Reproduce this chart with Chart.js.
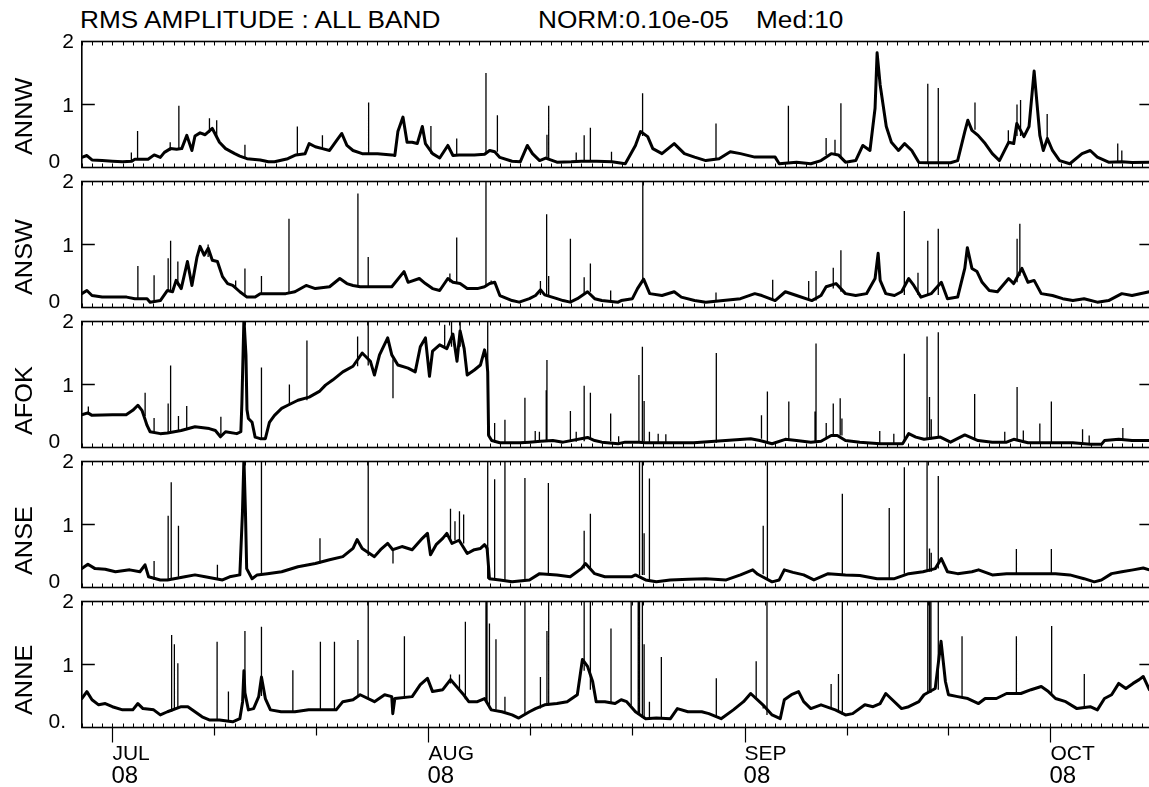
<!DOCTYPE html>
<html>
<head>
<meta charset="utf-8">
<script src="https://cdn.jsdelivr.net/npm/chart.js@4.4.1/dist/chart.umd.min.js"></script>
<style>
html, body { margin: 0; padding: 0; background: #fff; overflow: hidden; }
body { width: 1149px; height: 787px; position: relative; font-family: "Liberation Sans", Arial, sans-serif; }
canvas { position: absolute; left: 0; top: 0; }
.ttl { position: absolute; font-size: 23px; line-height: 23px; color: #000; white-space: nowrap; transform: scaleX(1.14); transform-origin: 0 0; }
</style>
</head>
<body>
<div class="ttl" style="left:80px;top:9px">RMS AMPLITUDE : ALL BAND</div>
<div class="ttl" style="left:538px;top:9px">NORM:0.10e-05</div>
<div class="ttl" style="left:756px;top:9px">Med:10</div>
<script>
// days counted from 1 July 2008 (day 0)
const stations = ['ANNW', 'ANSW', 'AFOK', 'ANSE', 'ANNE'];
const monthNames = ['JUL', 'AUG', 'SEP', 'OCT'];
const monthDays = [0, 31, 62, 92];
const tenDayTicks = [0, 10, 20, 31, 41, 51, 62, 72, 82, 92];
const yearLabel = '08';
const yTickLabels = ['0', '1', '2'];

// [day, amplitude]
const annwBase = [[-3,0.16],[-2.5,0.19],[-2,0.12],[-1,0.11],[0,0.1],[1,0.09],[1.9,0.1],[2.2,0.13],[3.5,0.13],[4.1,0.2],[4.7,0.16],[5.1,0.24],[5.7,0.3],[6.3,0.29],[6.8,0.3],[7.3,0.51],[7.8,0.27],[8.1,0.5],[8.6,0.55],[9.1,0.52],[9.8,0.62],[10.5,0.4],[11.1,0.3],[12,0.22],[12.5,0.18],[13.2,0.14],[14.5,0.12],[15.3,0.09],[15.9,0.09],[17.2,0.14],[18,0.2],[18.9,0.22],[19.3,0.38],[19.9,0.33],[20.6,0.3],[21.3,0.27],[22,0.43],[22.5,0.54],[23,0.35],[23.6,0.27],[24.5,0.22],[26,0.22],[27.4,0.2],[27.7,0.19],[28,0.57],[28.5,0.8],[28.9,0.4],[29.4,0.4],[29.9,0.38],[30.4,0.65],[30.7,0.38],[31.4,0.22],[32.1,0.15],[32.9,0.35],[33.4,0.19],[34,0.2],[35.5,0.2],[36.5,0.21],[37,0.27],[37.5,0.25],[38,0.16],[39.2,0.1],[40,0.09],[40.7,0.35],[41.2,0.22],[41.9,0.11],[42.5,0.15],[43.6,0.085],[45,0.09],[46,0.1],[47.5,0.1],[49,0.09],[50.3,0.06],[51.3,0.35],[51.8,0.57],[52.5,0.49],[53,0.3],[53.9,0.22],[55.1,0.38],[56.1,0.22],[57.1,0.165],[58.2,0.11],[59.5,0.14],[60.6,0.25],[61.6,0.22],[63,0.165],[65,0.165],[65.4,0.06],[67.1,0.085],[68.5,0.06],[69.5,0.11],[70.5,0.22],[71.2,0.2],[71.9,0.085],[72.9,0.11],[73.6,0.35],[74.3,0.27],[74.8,0.94],[75,1.82],[75.3,1.31],[75.9,0.65],[76.4,0.4],[77.1,0.27],[77.7,0.38],[78.4,0.27],[79.1,0.08],[80,0.075],[82.2,0.075],[82.9,0.11],[83.6,0.57],[83.9,0.75],[84.3,0.59],[84.9,0.51],[85.6,0.38],[86.3,0.22],[87,0.11],[87.9,0.4],[88.4,0.38],[88.7,0.7],[89.4,0.49],[89.9,0.65],[90.4,1.53],[90.96,0.51],[91.3,0.27],[91.7,0.46],[92.2,0.27],[92.9,0.11],[93.9,0.06],[95.1,0.22],[95.9,0.27],[96.6,0.165],[97.7,0.085],[99,0.09],[100,0.08],[101.7,0.085]];
// [day, low, high]
const annwSpikes = [[1.86,0.1,0.24],[2.47,0.12,0.58],[5.67,0.27,0.4],[6.52,0.3,0.98],[9.52,0.55,0.78],[10.23,0.5,0.75],[13.0,0.14,0.36],[18.14,0.2,0.65],[20.6,0.3,0.51],[25.13,0.22,1.03],[31.24,0.22,0.66],[33.77,0.2,0.46],[36.64,0.21,1.5],[37.76,0.25,0.83],[42.62,0.15,0.52],[42.79,0.15,0.98],[45.49,0.09,0.24],[46.27,0.1,0.51],[46.88,0.1,0.63],[48.95,0.09,0.25],[52.0,0.5,1.18],[59.2,0.14,0.7],[66.3,0.06,0.98],[70.0,0.2,0.47],[70.87,0.2,0.44],[71.45,0.15,1.02],[79.97,0.08,1.33],[81.0,0.08,1.26],[84.6,0.6,1.03],[87.87,0.4,0.59],[88.72,0.5,1.0],[89.07,0.5,1.07],[91.68,0.4,0.85],[98.6,0.09,0.38],[99.0,0.09,0.27]];

const answBase = [[-3,0.22],[-2.5,0.27],[-2,0.19],[-1,0.165],[0,0.165],[1.4,0.165],[2.2,0.14],[3.4,0.14],[3.7,0.085],[4.7,0.11],[5.4,0.27],[5.9,0.25],[6.25,0.43],[6.75,0.3],[7.36,0.73],[7.8,0.35],[8.3,0.8],[8.6,0.97],[9,0.83],[9.4,0.94],[9.8,0.75],[10.3,0.73],[10.8,0.49],[11.3,0.38],[11.8,0.35],[12.5,0.25],[13.2,0.165],[14,0.165],[14.5,0.22],[17,0.22],[17.9,0.25],[19,0.35],[19.9,0.3],[21.3,0.33],[22.3,0.46],[23,0.38],[23.6,0.35],[24.3,0.33],[27.4,0.33],[28.6,0.57],[29,0.4],[30.1,0.46],[30.7,0.38],[31.4,0.3],[32.1,0.27],[32.9,0.46],[33.4,0.4],[34.1,0.38],[34.8,0.3],[35.8,0.3],[36.5,0.33],[37,0.38],[37.5,0.4],[38,0.19],[39.2,0.11],[39.9,0.085],[40.9,0.14],[41.5,0.19],[42,0.28],[42.4,0.2],[43.6,0.14],[44.2,0.11],[44.9,0.085],[45.6,0.14],[46.6,0.25],[47.3,0.14],[48,0.11],[49.6,0.085],[49.9,0.11],[51,0.14],[51.5,0.3],[52.1,0.45],[52.7,0.22],[53.9,0.19],[55.1,0.25],[55.8,0.165],[57.1,0.11],[58.2,0.085],[59.9,0.11],[61.6,0.14],[63,0.22],[63.7,0.19],[65,0.11],[66,0.25],[67.1,0.19],[68.6,0.11],[69.5,0.19],[70,0.33],[70.97,0.38],[71.9,0.22],[72.9,0.19],[73.96,0.22],[74.8,0.46],[75.1,0.86],[75.3,0.43],[75.85,0.22],[76.7,0.19],[77.4,0.25],[78.1,0.46],[78.6,0.35],[79.3,0.165],[80.3,0.22],[81.3,0.4],[81.9,0.14],[82.9,0.165],[83.6,0.62],[83.85,0.95],[84.3,0.62],[84.8,0.57],[85.3,0.4],[86,0.27],[86.8,0.25],[87.9,0.46],[88.4,0.38],[89.2,0.62],[89.8,0.4],[90.4,0.43],[91.1,0.22],[92.2,0.19],[93.2,0.14],[94.2,0.11],[95.3,0.14],[96.6,0.085],[97.7,0.11],[99,0.22],[100,0.19],[101.7,0.25]];
const answSpikes = [[2.5,0.14,0.66],[4.09,0.1,0.51],[5.47,0.27,0.78],[5.71,0.27,1.06],[6.42,0.35,0.73],[9.39,0.8,1.0],[12.09,0.3,0.43],[13.0,0.2,0.62],[14.62,0.2,0.5],[17.32,0.22,1.41],[24.08,0.33,1.81],[25.09,0.33,0.8],[33.1,0.4,0.54],[33.77,0.38,1.11],[36.64,0.33,2.05],[37.15,0.38,0.43],[41.98,0.2,0.42],[42.59,0.2,1.48],[42.79,0.2,0.5],[44.92,0.09,1.09],[46.27,0.2,0.48],[46.88,0.25,0.7],[48.87,0.11,0.27],[52.02,0.4,2.05],[59.2,0.09,0.24],[64.76,0.11,0.44],[68.29,0.11,0.42],[69.01,0.11,0.58],[70.7,0.3,0.63],[71.45,0.25,0.91],[77.67,0.2,1.53],[79.01,0.2,0.55],[79.97,0.2,1.06],[81.0,0.2,1.25],[88.73,0.4,1.09],[89.0,0.5,1.33]];

const afokBase = [[-3,0.52],[-2.4,0.55],[-2,0.51],[0,0.52],[1.35,0.52],[2,0.59],[2.5,0.67],[2.9,0.59],[3.2,0.45],[3.4,0.35],[3.7,0.25],[4.7,0.22],[5.4,0.23],[6.75,0.27],[8.1,0.33],[9.5,0.3],[10.1,0.27],[10.6,0.17],[11.1,0.25],[12.2,0.22],[12.6,0.25],[12.7,0.7],[12.9,2.05],[13.1,1.47],[13.2,0.6],[13.34,0.46],[13.7,0.4],[14.0,0.165],[14.5,0.14],[15,0.14],[15.4,0.4],[15.9,0.51],[16.6,0.62],[17.2,0.67],[18.2,0.75],[19.3,0.8],[20.3,0.89],[20.9,0.99],[21.6,1.07],[22.6,1.2],[23.6,1.29],[24.5,1.5],[25.3,1.37],[25.7,1.15],[26.2,1.47],[27.0,1.74],[27.4,1.47],[28.0,1.31],[29.0,1.26],[29.7,1.2],[30.2,1.6],[30.7,1.74],[31.1,1.13],[31.4,1.53],[32.1,1.63],[32.8,1.57],[33.4,1.8],[33.8,1.37],[34.1,1.85],[34.5,1.57],[34.8,1.15],[35.5,1.23],[36.1,1.31],[36.5,1.55],[36.7,1.4],[36.81,1.2],[36.9,0.19],[37.2,0.11],[38,0.075],[40,0.075],[40.9,0.085],[42,0.1],[43.2,0.11],[44.2,0.085],[46.6,0.16],[47.3,0.11],[48,0.085],[49.6,0.06],[50.3,0.085],[51.6,0.085],[52.3,0.075],[57,0.075],[62.6,0.14],[63.5,0.11],[64.7,0.06],[66,0.13],[67.1,0.11],[68.5,0.085],[69.5,0.1],[70.5,0.19],[71.1,0.19],[71.9,0.11],[73.3,0.085],[75.3,0.06],[77.5,0.06],[78.1,0.22],[78.8,0.165],[79.6,0.13],[81.2,0.165],[82.2,0.085],[83.6,0.2],[84.9,0.11],[86.3,0.085],[87.7,0.085],[88.4,0.13],[89.8,0.075],[92.5,0.075],[94.2,0.075],[95.9,0.05],[97,0.05],[97.3,0.11],[98.7,0.13],[100,0.11],[101.7,0.11]];
const afokSpikes = [[-2.36,0.52,0.65],[3.21,0.5,0.87],[4.09,0.23,0.47],[5.47,0.23,0.7],[5.71,0.23,1.3],[6.48,0.27,0.5],[7.29,0.3,0.66],[10.64,0.2,0.49],[14.62,0.14,1.27],[17.36,0.67,1.0],[19.08,0.75,1.7],[24.05,1.29,1.76],[25.09,1.3,2.05],[27.52,0.78,1.4],[32.59,1.6,1.95],[33.26,1.6,2.05],[34.11,1.6,2.05],[36.81,0.2,2.05],[37.49,0.08,0.39],[38.5,0.08,0.44],[40.46,0.08,0.79],[41.47,0.09,0.26],[41.88,0.1,0.25],[42.55,0.1,0.91],[42.62,0.1,1.39],[44.92,0.09,0.58],[45.49,0.09,0.25],[46.27,0.1,0.98],[46.88,0.12,0.87],[48.87,0.1,0.54],[49.65,0.085,0.18],[51.64,0.1,1.15],[51.98,0.1,1.6],[52.15,0.1,0.74],[52.67,0.08,0.25],[53.53,0.08,0.22],[54.28,0.08,0.21],[59.23,0.075,1.5],[63.66,0.14,0.51],[64.24,0.1,0.89],[66.34,0.13,0.73],[68.91,0.085,0.57],[69.01,0.085,1.65],[70.01,0.15,0.39],[70.7,0.19,0.7],[71.38,0.19,0.78],[71.55,0.19,0.46],[75.26,0.06,0.26],[76.64,0.06,0.22],[77.67,0.1,1.49],[79.9,0.13,1.76],[80.14,0.13,0.8],[80.31,0.13,0.45],[81.0,0.15,1.83],[84.57,0.15,0.85],[87.52,0.09,0.25],[88.73,0.13,0.96],[89.34,0.1,0.27],[90.96,0.08,0.38],[92.09,0.08,0.73],[95.15,0.08,0.29],[95.8,0.06,0.19],[99.1,0.11,0.31]];

const anseBase = [[-3,0.3],[-2.4,0.37],[-1.7,0.3],[-0.7,0.29],[0.3,0.25],[1.7,0.28],[2.7,0.25],[3.2,0.36],[3.55,0.17],[4.7,0.12],[5.4,0.12],[7.1,0.17],[8.1,0.2],[9.1,0.17],[10.8,0.12],[11.5,0.17],[12.5,0.2],[12.75,1.16],[12.9,2.05],[13.05,1.2],[13.17,0.3],[13.7,0.14],[14.2,0.2],[15.2,0.22],[16.6,0.25],[18.2,0.33],[19.9,0.38],[21.3,0.44],[22.6,0.49],[23.6,0.62],[24,0.76],[24.5,0.62],[25.7,0.49],[26.3,0.6],[27,0.7],[27.5,0.6],[28.4,0.65],[29.4,0.6],[30.4,0.78],[30.9,0.86],[31.2,0.52],[31.75,0.68],[32.4,0.78],[32.8,0.86],[33.3,0.7],[34,0.75],[34.8,0.54],[35.5,0.6],[36.1,0.62],[36.5,0.68],[36.75,0.62],[36.98,0.14],[38,0.12],[39.2,0.09],[40.9,0.12],[41.9,0.22],[43.6,0.2],[44.9,0.17],[46,0.3],[46.4,0.38],[47.3,0.22],[48.3,0.17],[49.6,0.17],[50.9,0.17],[51.3,0.2],[52.3,0.12],[53.35,0.09],[54.7,0.12],[56.5,0.13],[58.2,0.14],[60.2,0.12],[61.6,0.2],[62.8,0.28],[63.3,0.21],[64.7,0.09],[65.4,0.12],[65.9,0.28],[66.75,0.24],[67.8,0.2],[68.8,0.12],[70.2,0.22],[71.9,0.2],[73.3,0.19],[75,0.14],[76.7,0.14],[78.1,0.22],[79.5,0.25],[80.7,0.3],[81.3,0.46],[81.9,0.25],[82.9,0.22],[84.3,0.25],[84.95,0.28],[86.3,0.2],[87.7,0.22],[89.1,0.22],[90.4,0.22],[92.5,0.22],[93.9,0.2],[95.3,0.14],[96.3,0.09],[97,0.12],[98,0.22],[99,0.25],[100.1,0.28],[101.1,0.31],[101.7,0.28]];
const anseSpikes = [[4.09,0.12,0.42],[5.47,0.12,1.14],[5.77,0.12,1.67],[6.48,0.17,0.98],[10.3,0.14,0.36],[14.62,0.2,2.05],[20.36,0.38,0.78],[25.09,0.5,2.05],[27.52,0.38,0.6],[33.16,0.75,1.25],[33.6,0.75,1.05],[34.04,0.75,1.21],[34.45,0.7,1.16],[36.81,0.14,2.05],[37.49,0.12,1.72],[38.5,0.12,2.05],[40.46,0.12,1.74],[42.76,0.2,1.66],[46.27,0.3,0.9],[46.88,0.3,1.17],[51.7,0.2,2.05],[51.98,0.2,2.05],[52.15,0.2,0.86],[52.67,0.12,1.73],[63.83,0.21,0.98],[64.24,0.12,2.05],[71.59,0.2,1.49],[76.19,0.14,1.26],[77.67,0.22,1.91],[79.9,0.25,2.05],[80.14,0.25,0.62],[80.31,0.25,0.55],[81.0,0.3,1.77],[88.66,0.22,0.61],[92.09,0.22,0.61]];

const anneBase = [[-3,0.46],[-2.5,0.57],[-2,0.44],[-1.35,0.36],[-0.7,0.38],[0,0.33],[1,0.28],[2,0.28],[2.5,0.38],[3,0.3],[4.05,0.28],[4.7,0.2],[5.4,0.25],[6.75,0.33],[7.4,0.33],[8.1,0.25],[8.8,0.17],[9.5,0.12],[10.5,0.12],[11.8,0.09],[12.5,0.14],[12.77,0.41],[12.9,0.9],[13.0,0.55],[13.34,0.28],[13.85,0.3],[14.35,0.49],[14.62,0.8],[15.0,0.46],[15.5,0.28],[16.55,0.25],[17.9,0.25],[19.25,0.28],[20.6,0.28],[21.95,0.28],[22.6,0.41],[23.6,0.44],[24.3,0.52],[25.7,0.41],[26.7,0.52],[27.4,0.49],[27.5,0.22],[27.7,0.46],[29.4,0.49],[30.2,0.68],[30.9,0.78],[31.4,0.57],[32.4,0.6],[33.16,0.76],[33.6,0.68],[34.45,0.52],[34.95,0.41],[35.8,0.41],[36.5,0.46],[37.15,0.28],[38.2,0.25],[39.2,0.2],[39.85,0.15],[40.9,0.25],[41.5,0.3],[42.4,0.36],[43.6,0.38],[44.6,0.41],[45.6,0.52],[46.1,1.08],[46.6,0.97],[47.1,0.73],[47.45,0.41],[48.3,0.41],[49.3,0.38],[49.9,0.44],[50.44,0.41],[51.3,0.25],[52.3,0.14],[53.35,0.15],[54.73,0.14],[55.41,0.3],[56.45,0.25],[57.8,0.25],[58.5,0.22],[59.7,0.14],[60.9,0.28],[61.9,0.41],[62.6,0.54],[63.8,0.36],[64.7,0.2],[65.5,0.14],[65.9,0.44],[66.6,0.52],[67.3,0.57],[67.8,0.41],[68.5,0.3],[69.5,0.36],[70.9,0.28],[71.9,0.2],[72.6,0.22],[73.8,0.36],[74.6,0.33],[75.3,0.38],[75.85,0.54],[76.36,0.46],[77.4,0.3],[78.1,0.33],[79.1,0.41],[79.6,0.52],[80.7,0.62],[81.27,1.37],[81.7,0.73],[82.0,0.52],[82.9,0.49],[83.9,0.46],[84.95,0.38],[85.6,0.46],[86.7,0.46],[87.7,0.54],[89.1,0.54],[90.1,0.6],[91.1,0.65],[91.8,0.57],[92.5,0.46],[93.5,0.41],[94.6,0.3],[95.9,0.33],[96.6,0.28],[97.3,0.46],[98,0.52],[98.7,0.7],[99.4,0.62],[100.1,0.7],[100.7,0.76],[101.1,0.81],[101.7,0.6]];
const anneSpikes = [[5.81,0.25,1.47],[6.08,0.3,1.32],[6.42,0.3,1.02],[10.27,0.12,1.36],[11.38,0.1,0.57],[13.0,0.5,1.53],[14.62,0.5,1.6],[17.7,0.25,0.91],[20.4,0.28,1.36],[21.78,0.28,1.36],[24.08,0.5,1.39],[25.09,0.45,2.05],[28.64,0.46,1.45],[33.16,0.7,0.84],[34.04,0.6,0.84],[34.62,0.45,1.68],[36.64,0.4,2.05],[36.74,0.4,2.05],[36.98,0.3,1.65],[37.62,0.28,1.4],[38.5,0.25,0.49],[40.46,0.2,2.05],[41.98,0.3,0.8],[42.62,0.35,1.53],[42.79,0.35,2.05],[46.27,0.9,2.05],[46.88,0.6,2.05],[48.9,0.4,1.57],[50.88,0.35,2.05],[51.57,0.2,2.05],[51.7,0.2,2.05],[51.98,0.15,2.05],[52.15,0.15,1.32],[52.67,0.14,0.41],[53.84,0.15,1.12],[59.23,0.15,0.78],[63.14,0.45,1.05],[63.83,0.3,0.37],[64.2,0.2,2.05],[70.49,0.3,0.69],[71.21,0.25,0.85],[71.59,0.2,2.05],[79.97,0.55,2.05],[80.14,0.55,2.05],[80.28,0.55,2.05],[81.0,0.6,2.05],[83.33,0.48,1.45],[88.66,0.54,1.45],[92.12,0.5,1.61],[95.32,0.3,0.85]];

const series = [
  [annwBase, annwSpikes],
  [answBase, answSpikes],
  [afokBase, afokSpikes],
  [anseBase, anseSpikes],
  [anneBase, anneSpikes]
];

const FONT = '"Liberation Sans", Arial, sans-serif';

const panelPlugin = {
  id: 'panel',
  afterDatasetsDraw(chart, args, o) {
    const ctx = chart.ctx;
    const a = chart.chartArea;
    const x = chart.scales.x, y = chart.scales.y;
    ctx.save();
    ctx.strokeStyle = '#000';
    ctx.fillStyle = '#000';

    // frame
    ctx.lineWidth = 1.6;
    ctx.strokeRect(a.left, a.top, a.right - a.left, a.bottom - a.top);

    // daily ticks, inward on top and bottom
    ctx.lineWidth = 1;
    ctx.beginPath();
    for (let d = Math.ceil(x.min); d <= x.max; d++) {
      const px = Math.round(x.getPixelForValue(d)) + 0.5;
      ctx.moveTo(px, a.top); ctx.lineTo(px, a.top + 4);
      ctx.moveTo(px, a.bottom); ctx.lineTo(px, a.bottom - 4);
    }
    ctx.stroke();

    // y = 1 ticks on both sides
    const y1 = y.getPixelForValue(1);
    ctx.lineWidth = 1.5;
    ctx.beginPath();
    ctx.moveTo(a.left, y1); ctx.lineTo(a.left + 13, y1);
    ctx.moveTo(a.right, y1); ctx.lineTo(a.right - 13, y1);
    ctx.stroke();

    // y tick labels
    ctx.font = '21px ' + FONT;
    ctx.textBaseline = 'alphabetic';
    ctx.textAlign = 'right';
    ctx.fillText(yTickLabels[2], 74, y.getPixelForValue(2) + 6);
    ctx.fillText(yTickLabels[1], 74, y1 + 7.5);
    ctx.textAlign = 'left';
    ctx.fillText(o.last ? yTickLabels[0] + '.' : yTickLabels[0], 48.5, y.getPixelForValue(0) + 0.5);

    // station name
    ctx.save();
    ctx.font = '23px ' + FONT;
    ctx.translate(32, y.getPixelForValue(0) - 12.5);
    ctx.rotate(-Math.PI / 2);
    ctx.scale(1.1, 1);
    ctx.textAlign = 'left';
    ctx.fillText(o.name, 0, 0);
    ctx.restore();

    if (o.last) {
      ctx.lineWidth = 1.2;
      ctx.beginPath();
      tenDayTicks.forEach(d => {
        const px = Math.round(x.getPixelForValue(d)) + 0.5;
        const len = monthDays.includes(d) ? 15 : 8;
        ctx.moveTo(px, a.bottom); ctx.lineTo(px, a.bottom + len);
      });
      ctx.stroke();
      monthNames.forEach((m, i) => {
        const px = x.getPixelForValue(monthDays[i]);
        ctx.font = '21px ' + FONT;
        ctx.fillText(m, px, a.bottom + 32.5);
        ctx.font = '24px ' + FONT;
        ctx.fillText(yearLabel, px - 1, a.bottom + 55.5);
      });
    }
    ctx.restore();
  }
};

const CW = 1170, CH = 787;
const plotLeft = 81.8, plotRight = 1152.4;

stations.forEach((name, i) => {
  const top = 41.5 + 140 * i;
  const bottom = top + 126;
  const cv = document.createElement('canvas');
  cv.width = CW; cv.height = CH;
  cv.style.width = CW + 'px'; cv.style.height = CH + 'px';
  document.body.appendChild(cv);
  const base = series[i][0], spikes = series[i][1];
  const spikePts = [];
  spikes.forEach(s => {
    spikePts.push({x: s[0], y: s[1]}, {x: s[0], y: s[2]}, {x: s[0], y: null});
  });
  new Chart(cv, {
    type: 'line',
    data: {
      datasets: [
        {
          data: base.map(p => ({x: p[0], y: p[1]})),
          borderColor: '#000',
          borderWidth: 3,
          pointRadius: 0,
          tension: 0,
          borderJoinStyle: 'round',
          borderCapStyle: 'round'
        },
        {
          data: spikePts,
          borderColor: '#000',
          borderWidth: 1.3,
          pointRadius: 0,
          spanGaps: false
        }
      ]
    },
    options: {
      responsive: false,
      animation: false,
      devicePixelRatio: 1,
      events: [],
      layout: {
        padding: {left: plotLeft, right: CW - plotRight, top: top, bottom: CH - bottom}
      },
      plugins: {
        legend: {display: false},
        tooltip: {enabled: false},
        panel: {name: name, last: i === stations.length - 1}
      },
      scales: {
        x: {type: 'linear', min: -3, max: 102, display: false},
        y: {min: 0, max: 2, display: false}
      }
    },
    plugins: [panelPlugin]
  });
});
</script>
</body>
</html>
